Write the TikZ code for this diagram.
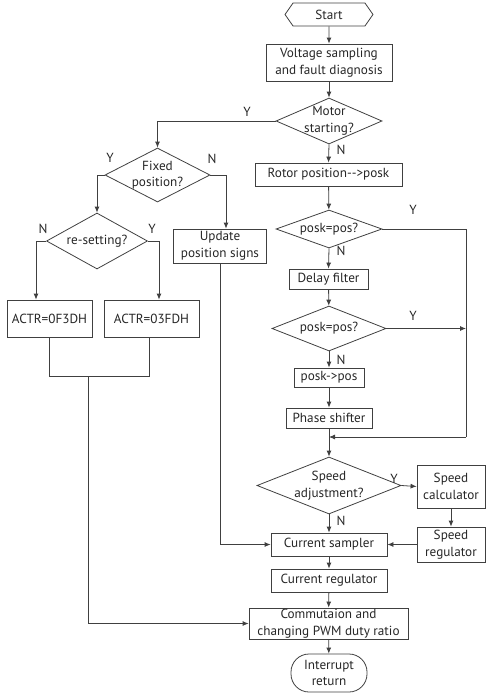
\documentclass[tikz,border=0pt]{standalone}
\usepackage{fontspec}
\setmainfont{PT Sans}
\usetikzlibrary{shapes.geometric,shapes.symbols,arrows.meta}
\begin{document}
\begin{tikzpicture}[x=1pt,y=-1pt,
  every node/.style={font=\fontsize{13.2}{16.5}\selectfont, text=black!85},
  box/.style={draw=black!75, line width=0.8pt, rectangle, inner sep=0pt, align=center},
  dia/.style={draw=black!75, line width=0.8pt, diamond, inner sep=0pt},
  conn/.style={draw=black!75, line width=0.8pt},
  arr/.style={conn, -{Latex[length=6pt,width=5pt]}},
  yn/.style={inner sep=0pt}
]
\useasboundingbox (0,0) rectangle (493,699);
% main column
\node[box, signal, signal to=west and east, signal pointer angle=110, minimum width=88pt, minimum height=23pt] (start) at (329,14.5) {Start};
\node[box, minimum width=126pt, minimum height=37pt] (volt) at (329,62.5) {Voltage sampling\\and fault diagnosis};
\node[dia, minimum width=106pt, minimum height=46pt, label={[align=center]center:Motor\\starting?}] (motor) at (329,121) {};
\node[box, minimum width=147pt, minimum height=23pt] (rotor) at (328.5,174.5) {Rotor position-{}->posk};
\node[dia, minimum width=106pt, minimum height=38pt, label={center:posk=pos?}] (pa) at (329,229) {};
\node[box, minimum width=79pt, minimum height=20pt] (delay) at (328.5,279) {Delay filter};
\node[dia, minimum width=114pt, minimum height=45pt, label={center:posk=pos?}] (pb) at (329,328.5) {};
\node[box, minimum width=70pt, minimum height=19pt] (pp) at (329,377.5) {posk-{}>pos};
\node[box, minimum width=86pt, minimum height=20pt] (phase) at (329,418) {Phase shifter};
\node[dia, minimum width=144pt, minimum height=57pt, label={[align=center]center:Speed\\adjustment?}] (sadj) at (329,485.5) {};
\node[box, minimum width=68pt, minimum height=43pt] (scalc) at (451,486.5) {Speed\\calculator};
\node[box, minimum width=68pt, minimum height=35pt] (sreg) at (451,544.5) {Speed\\regulator};
\node[box, minimum width=116pt, minimum height=23pt] (csamp) at (329,544.5) {Current sampler};
\node[box, minimum width=116pt, minimum height=23pt] (creg) at (329,580.5) {Current regulator};
\node[box, minimum width=159pt, minimum height=31pt] (comm) at (328.5,623.5) {Commutaion and\\changing PWM duty ratio};
\node[box, rounded corners=18pt, minimum width=76pt, minimum height=38pt] (intr) at (329,673) {Interrupt\\return};
% left part
\node[dia, minimum width=105pt, minimum height=54pt, label={[align=center]center:Fixed\\position?}] (fixed) at (157.5,175) {};
\node[box, minimum width=93pt, minimum height=34pt] (upd) at (220,246) {Update\\position signs};
\node[dia, minimum width=101pt, minimum height=56pt, label={center:re-setting?}] (reset) at (97,241) {};
\node[box, minimum width=85pt, minimum height=37pt] (actra) at (49.5,318.5) {ACTR=0F3DH};
\node[box, minimum width=95pt, minimum height=37pt] (actrb) at (151.5,318.5) {ACTR=03FDH};
% coordinates
\coordinate (loopr) at (466,437);
\coordinate (loopm) at (329,437);
\coordinate (j) at (88,376);
% connectors main
\draw[arr] (start) -- (volt);
\draw[arr] (volt) -- (motor);
\draw[arr] (motor.south) -- (rotor.north);
\draw[arr] (rotor) -- (pa);
\draw[arr] (pa.south) -- (delay.north);
\draw[arr] (delay) -- (pb);
\draw[arr] (pb.south) -- (pp.north);
\draw[arr] (pp) -- (phase);
\draw[arr] (phase.south) -- (sadj.north);
\draw[conn] (pa.east) -| (loopr);
\draw[arr] (loopr) -- (loopm);
\draw[arr] (pb.east) -- (pb.east -| loopr);
\draw[arr] (sadj.east) -- (scalc.west);
\draw[arr] (scalc) -- (sreg);
\draw[arr] (sreg.west) -- (csamp.east);
\draw[arr] (sadj.south) -- (csamp.north);
\draw[arr] (csamp) -- (creg);
\draw[arr] (creg) -- (comm);
\draw[arr] (comm) -- (intr);
% connectors left
\draw[arr] (motor.west) -| (fixed.north);
\draw[arr] (fixed.west) -| (reset.north);
\draw[arr] (fixed.east) -| ([xshift=6pt]upd.north);
\draw[arr] (reset.west) -| ([xshift=-13.5pt]actra.north);
\draw[arr] (reset.east) -| ([xshift=7.5pt]actrb.north);
\draw[conn] (actra.south) -- (actra.south |- j) -- ([xshift=-2.5pt]actrb.south |- j) -- ([xshift=-2.5pt]actrb.south);
\draw[arr] (j) |- (comm.west);
\draw[arr] (upd.south) |- (csamp.west);
% labels
\node[yn] (ly1) at (247,112) {Y};
\node[yn] (ln1) at (341,150) {N};
\node[yn] (ly2) at (110,158) {Y};
\node[yn] (ln2) at (212,159) {N};
\node[yn] (ln3) at (43,229) {N};
\node[yn] (ly3) at (152,229) {Y};
\node[yn] (ly4) at (413,210) {Y};
\node[yn] (ln4) at (341,251) {N};
\node[yn] (ly5) at (413,316) {Y};
\node[yn] (ln5) at (341,360) {N};
\node[yn] (ly6) at (394,479) {Y};
\node[yn] (ln6) at (341,521) {N};
\end{tikzpicture}
\end{document}
